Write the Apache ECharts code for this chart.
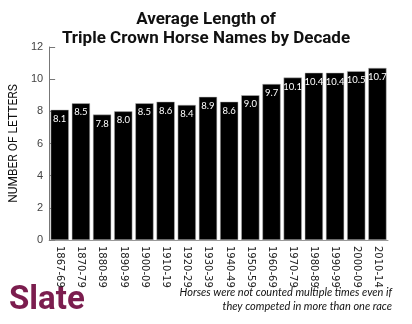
<!DOCTYPE html>
<html><head><meta charset="utf-8">
<script src="https://cdn.jsdelivr.net/npm/echarts@6/dist/echarts.min.js"></script>
<style>html,body{margin:0;padding:0;background:#fff}#c{width:412px;height:324px}</style>
</head><body><div id="c"></div>
<script>
const categories = ["1867-69","1870-79","1880-89","1890-99","1900-09","1910-19","1920-29","1930-39","1940-49","1950-59","1960-69","1970-79","1980-89","1990-99","2000-09","2010-14"];
const avgLength = [8.1, 8.5, 7.8, 8.0, 8.5, 8.6, 8.4, 8.9, 8.6, 9.0, 9.7, 10.1, 10.4, 10.4, 10.5, 10.7];
const yTicks = [0, 2, 4, 6, 8, 10, 12];
const footnote = ['Horses were not counted multiple times even if', 'they competed in more than one race'];

const chart = echarts.init(document.getElementById('c'), null, {renderer: 'canvas'});
chart.setOption({
  animation: false,
  backgroundColor: '#fff',
  title: {
    text: 'Average Length of\nTriple Crown Horse Names by Decade',
    left: 'center', top: 5,
    textStyle: {fontFamily: 'Roboto, sans-serif', fontWeight: 'bold', fontSize: 17, lineHeight: 19, color: '#111'}
  },
  grid: {left: 42, right: 24, top: 47, bottom: 84},
  xAxis: {
    type: 'category', data: categories,
    axisLine: {show: true, lineStyle: {color: '#999'}},
    axisTick: {show: false},
    axisLabel: {rotate: -90, interval: 0, fontSize: 10, color: '#222', fontFamily: 'DejaVu Sans, sans-serif', margin: 6}
  },
  yAxis: {
    type: 'value', min: yTicks[0], max: yTicks[yTicks.length - 1], interval: 2,
    name: 'NUMBER OF LETTERS', nameLocation: 'middle', nameGap: 23, nameRotate: 90,
    nameTextStyle: {fontSize: 12, color: '#111', fontFamily: 'Roboto, sans-serif'},
    axisLine: {show: true, lineStyle: {color: '#777'}},
    axisTick: {show: true, inside: true, length: 6, lineStyle: {color: '#777'}},
    splitLine: {show: false},
    axisLabel: {fontSize: 11, color: '#444', margin: 6, fontFamily: 'Liberation Sans, sans-serif'}
  },
  series: [{
    type: 'bar', data: avgLength, barCategoryGap: '14%',
    itemStyle: {color: '#000', borderColor: '#bbb', borderWidth: 0.5},
    label: {show: true, position: 'insideTop', distance: 4, color: '#fff', fontSize: 9.5, fontWeight: 'normal', fontFamily: 'Lato, sans-serif',
      formatter: p => p.value.toFixed(1)}
  }],
  graphic: [
    {type: 'text', left: 9, top: 284, style: {text: 'Slate', fontSize: 33, fontWeight: 'bold', fill: '#7b1d4e', fontFamily: 'Roboto, sans-serif'}},
    {type: 'text', right: 20, top: 287, style: {text: footnote[0], fontSize: 11, fontStyle: 'italic', fill: '#111', fontFamily: 'Lato, sans-serif'}},
    {type: 'text', right: 20, top: 301, style: {text: footnote[1], fontSize: 11, fontStyle: 'italic', fill: '#111', fontFamily: 'Lato, sans-serif'}}
  ]
});
</script></body></html>
